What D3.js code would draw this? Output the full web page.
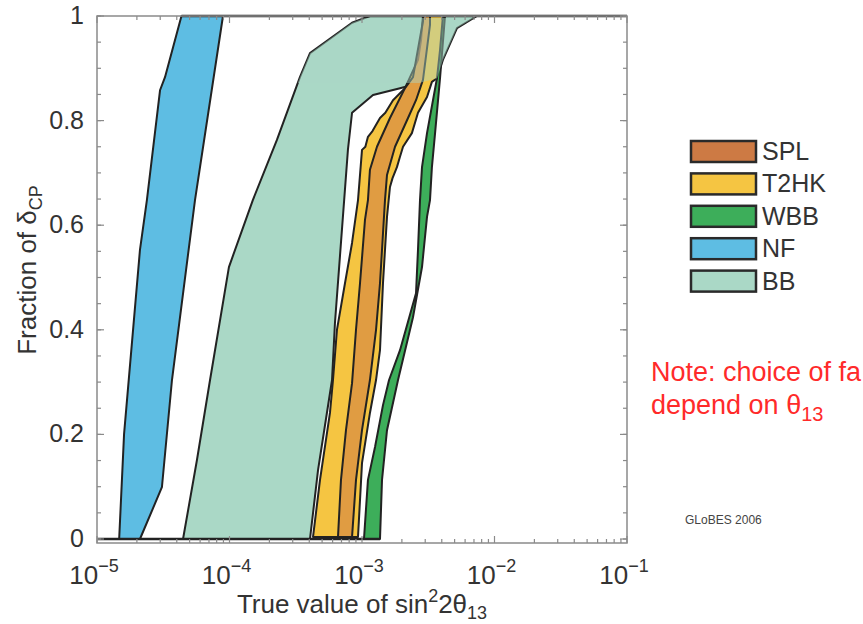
<!DOCTYPE html>
<html>
<head>
<meta charset="utf-8">
<title>Fraction of deltaCP vs sin^2 2theta13</title>
<script src="https://d3js.org/d3.v7.min.js"></script>
<style>
  body { margin: 0; background: #fff; }
  text { font-family: "Liberation Sans", Arial, Helvetica, sans-serif; }
</style>
</head>
<body>
<div id="chart"></div>
<script>
// ---- data: [sin^2 2theta13, fraction of deltaCP] ----
var nfLeft  = [[1.47e-5,0],[1.60e-5,0.2],[2.11e-5,0.553],[2.38e-5,0.648],[2.99e-5,0.858],[3.26e-5,0.883],[4.34e-5,1]];
var nfRight = [[2.11e-5,0],[3.09e-5,0.099],[3.68e-5,0.304],[5.49e-5,0.648],[8.93e-5,1]];

var bbLeft  = [[4.46e-5,0],[5.68e-5,0.151],[7.13e-5,0.304],[9.9e-5,0.52],[1.50e-4,0.648],[2.28e-4,0.763],
               [3.40e-4,0.883],[4.05e-4,0.929],[8.41e-4,0.987],[1.149e-3,1]];
var bbRight = [[4.05e-4,0],[4.66e-4,0.132],[5.94e-4,0.304],[6.25e-4,0.413],[7.83e-4,0.744],[8.41e-4,0.815],
               [1.211e-3,0.849],[1.936e-3,0.862],[3.68e-3,0.881],[4.08e-3,0.916],[5.21e-3,0.977],[7.38e-3,1]];

var t2hkLeft  = [[4.27e-4,0.004],[4.82e-4,0.113],[5.73e-4,0.241],[6.04e-4,0.304],[6.47e-4,0.40],[7.44e-4,0.489],
                 [8.41e-4,0.566],[9.33e-4,0.648],[1.0e-3,0.744],[1.06e-3,0.75],[1.109e-3,0.769],[1.2e-3,0.78],
                 [1.367e-3,0.805],[1.5e-3,0.815],[1.714e-3,0.839],[2.11e-3,0.862],[2.646e-3,0.916],[2.79e-3,0.954],[2.885e-3,1]];
var t2hkRight = [[9.33e-4,0.004],[1.0e-3,0.145],[1.148e-3,0.241],[1.276e-3,0.304],[1.367e-3,0.361],[1.44e-3,0.489],
                 [1.544e-3,0.616],[1.626e-3,0.673],[1.70e-3,0.69],[1.835e-3,0.711],[1.93e-3,0.73],[2.04e-3,0.75],
                 [2.38e-3,0.776],[2.646e-3,0.815],[3.095e-3,0.845],[3.37e-3,0.874],[3.68e-3,0.881],[3.88e-3,0.935],[4.08e-3,1]];

var splLeft  = [[6.59e-4,0.004],[6.94e-4,0.113],[7.57e-4,0.208],[8.41e-4,0.298],[9.01e-4,0.40],[9.66e-4,0.489],
                [1.053e-3,0.61],[1.109e-3,0.648],[1.148e-3,0.706],[1.297e-3,0.75],[1.626e-3,0.805],[2.11e-3,0.862],
                [2.426e-3,0.883],[2.885e-3,0.99],[2.885e-3,1]];
var splRight = [[8.41e-4,0.004],[9.01e-4,0.113],[1.0e-3,0.208],[1.148e-3,0.304],[1.276e-3,0.40],[1.367e-3,0.489],
                [1.416e-3,0.553],[1.491e-3,0.648],[1.544e-3,0.696],[1.775e-3,0.75],[2.225e-3,0.805],[2.556e-3,0.839],
                [2.885e-3,0.878],[3.26e-3,0.983],[3.26e-3,1]];

var wbbLeft  = [[1.035e-3,0],[1.109e-3,0.113],[1.254e-3,0.176],[1.44e-3,0.256],[1.60e-3,0.304],[1.936e-3,0.361],
                [2.556e-3,0.47],[2.646e-3,0.553],[2.74e-3,0.648],[2.837e-3,0.711],[3.095e-3,0.776],[3.68e-3,0.881],[3.75e-3,1]];
var wbbRight = [[1.367e-3,0],[1.416e-3,0.113],[1.544e-3,0.208],[1.87e-3,0.304],[2.426e-3,0.424],[2.837e-3,0.52],
                [3.095e-3,0.616],[3.26e-3,0.648],[3.37e-3,0.711],[3.56e-3,0.776],[3.88e-3,0.881],[4.23e-3,1]];

var bottomEdge = [[1e-5,0],[1.367e-3,0]];
var topEdge    = [[4.34e-5,1],[0.1,1]];

var setups  = ["SPL", "T2HK", "WBB", "NF", "BB"];
var colours = {SPL: "#cd7a44", T2HK: "#f5c542", WBB: "#3dae5a", NF: "#5ebde3", BB: "#aad8c6"};

var xMajor = [1e-5, 1e-4, 1e-3, 1e-2, 1e-1];
var xExp   = ["\u22125", "\u22124", "\u22123", "\u22122", "\u22121"];
var yMajor = [0, 0.2, 0.4, 0.6, 0.8, 1];
var yLabels = ["0", "0.2", "0.4", "0.6", "0.8", "1"];

// ---- layout ----
var width = 863, height = 624;
var svg = d3.select("#chart").append("svg")
    .attr("width", width).attr("height", height);

var x = d3.scaleLog().domain([1e-5, 1e-1]).range([97, 627]);
var y = d3.scaleLinear().domain([0, 1]).range([539, 16]);
var yBottom = 543;

var line = d3.line().x(function(d){ return x(d[0]); }).y(function(d){ return y(d[1]); });
function band(left, right) {
  return line(left.concat(right.slice().reverse())) + "Z";
}

var plot = svg.append("g");

// bands, back to front
var bands = [
  {name: "BB",   left: bbLeft,   right: bbRight,   op: 1},
  {name: "NF",   left: nfLeft,   right: nfRight,   op: 1},
  {name: "WBB",  left: wbbLeft,  right: wbbRight,  op: 1},
  {name: "T2HK", left: t2hkLeft, right: t2hkRight, op: 1},
  {name: "SPL",  left: splLeft,  right: splRight,  op: 0.55}
];

plot.selectAll("path.band")
  .data(bands)
  .enter().append("path")
    .attr("class", "band")
    .attr("d", function(d){ return band(d.left, d.right); })
    .attr("fill", function(d){ return colours[d.name]; })
    .attr("fill-opacity", function(d){ return d.op; })
    .attr("stroke", "#222")
    .attr("stroke-width", 2)
    .attr("stroke-linejoin", "round");

// faded cap where the BB region lies over the narrow bands near the top
svg.append("clipPath").attr("id", "cap")
  .append("rect")
    .attr("x", x(1e-5)).attr("width", x(1e-1) - x(1e-5))
    .attr("y", y(1) + 2).attr("height", y(0.872) - y(1) - 2);

plot.append("path")
    .attr("d", band(bbLeft, bbRight))
    .attr("clip-path", "url(#cap)")
    .attr("fill", colours.BB)
    .attr("fill-opacity", 0.45);

// bottom / top edges of the regions
plot.selectAll("path.edge")
  .data([bottomEdge, topEdge])
  .enter().append("path")
    .attr("class", "edge")
    .attr("d", line)
    .attr("fill", "none")
    .attr("stroke", "#222")
    .attr("stroke-width", 2.4);

// ---- frame and ticks ----
var minor = [];
xMajor.slice(0, 4).forEach(function(m){ for (var k = 2; k <= 9; k++) minor.push(m * k); });
var yMinor = d3.range(0, 1.001, 0.05);

var axisCol = "#8a8a8a";

svg.append("rect")
    .attr("x", x(1e-5)).attr("y", y(1))
    .attr("width", x(1e-1) - x(1e-5)).attr("height", yBottom - y(1))
    .attr("fill", "none").attr("stroke", axisCol).attr("stroke-width", 1.5);

function xTicks(vals, len) {
  svg.append("g").selectAll("line.b").data(vals).enter().append("line")
    .attr("x1", x).attr("x2", x)
    .attr("y1", yBottom).attr("y2", yBottom - len)
    .attr("stroke", axisCol).attr("stroke-width", 1.2);
  svg.append("g").selectAll("line.t").data(vals).enter().append("line")
    .attr("x1", x).attr("x2", x)
    .attr("y1", y(1)).attr("y2", y(1) + len)
    .attr("stroke", axisCol).attr("stroke-width", 1.2);
}
xTicks(minor, 4);
xTicks(xMajor, 7);

function yTicks(vals, len) {
  svg.append("g").selectAll("line.l").data(vals).enter().append("line")
    .attr("x1", x(1e-5)).attr("x2", x(1e-5) + len)
    .attr("y1", y).attr("y2", y)
    .attr("stroke", axisCol).attr("stroke-width", 1.2);
  svg.append("g").selectAll("line.r").data(vals).enter().append("line")
    .attr("x1", x(1e-1)).attr("x2", x(1e-1) - len)
    .attr("y1", y).attr("y2", y)
    .attr("stroke", axisCol).attr("stroke-width", 1.2);
}
yTicks(yMinor, 4);
yTicks(yMajor, 7);

// tick labels
svg.append("g").selectAll("text").data(yMajor).enter().append("text")
    .attr("x", 84)
    .attr("y", function(d){ return y(d) + 8; })
    .attr("text-anchor", "end")
    .attr("font-size", 25)
    .attr("fill", "#333")
    .text(function(d, i){ return yLabels[i]; });

var xl = svg.append("g").selectAll("text").data(xMajor).enter().append("text")
    .attr("x", function(d){ return x(d) - 3; })
    .attr("y", 584)
    .attr("text-anchor", "middle")
    .attr("font-size", 26)
    .attr("fill", "#333");
xl.append("tspan").text("10");
xl.append("tspan").attr("dy", -12).attr("font-size", 18).text(function(d, i){ return xExp[i]; });

// axis titles
var xt = svg.append("text")
    .attr("x", 362).attr("y", 613)
    .attr("text-anchor", "middle")
    .attr("font-size", 26).attr("fill", "#333");
xt.append("tspan").text("True value of sin");
xt.append("tspan").attr("dy", -11).attr("font-size", 18).text("2");
xt.append("tspan").attr("dy", 11).text("2\u03b8");
xt.append("tspan").attr("dy", 6).attr("font-size", 18).text("13");

var yt = svg.append("text")
    .attr("transform", "translate(36,270) rotate(-90)")
    .attr("text-anchor", "middle")
    .attr("font-size", 26).attr("fill", "#333");
yt.append("tspan").text("Fraction of \u03b4");
yt.append("tspan").attr("dy", 6).attr("font-size", 18).text("CP");

// ---- legend ----
var lg = svg.append("g").selectAll("g").data(setups).enter().append("g")
    .attr("transform", function(d, i){ return "translate(691," + (141 + i * 32.4) + ")"; });
lg.append("rect")
    .attr("width", 65).attr("height", 21)
    .attr("fill", function(d){ return colours[d]; })
    .attr("stroke", "#2a2a2a").attr("stroke-width", 2.5);
lg.append("text")
    .attr("x", 71).attr("y", 19)
    .attr("font-size", 25).attr("fill", "#333")
    .text(function(d){ return d; });

// ---- notes ----
svg.append("text")
    .attr("x", 651).attr("y", 381)
    .attr("font-size", 27).attr("fill", "#ff2a2a")
    .text("Note: choice of fa");
var n2 = svg.append("text")
    .attr("x", 651).attr("y", 414)
    .attr("font-size", 27).attr("fill", "#ff2a2a");
n2.append("tspan").text("depend on \u03b8");
n2.append("tspan").attr("dy", 7).attr("font-size", 20).text("13");

svg.append("text")
    .attr("x", 685).attr("y", 524)
    .attr("font-size", 12).attr("fill", "#444")
    .text("GLoBES 2006");
</script>
</body>
</html>
